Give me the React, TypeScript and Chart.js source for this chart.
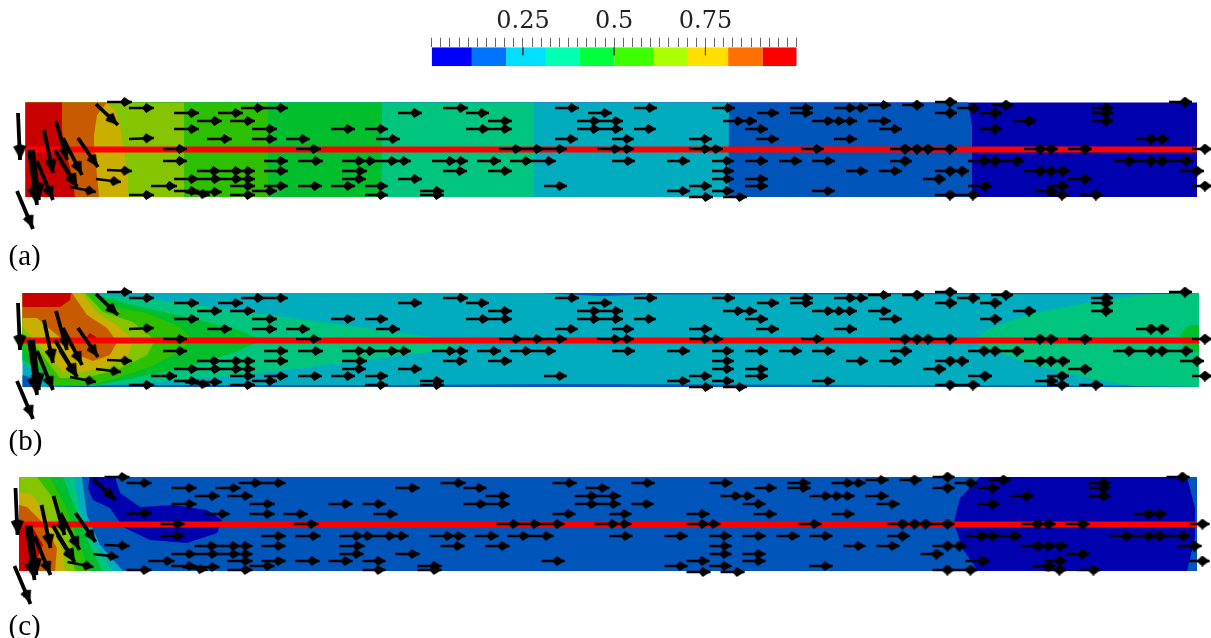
import React, { useEffect, useRef } from "react";
import { Chart, registerables } from "chart.js";

Chart.register(...registerables);

type Pt = [number, number];
type Band = [number, Pt[]];
type Arrow = [number, number, number, number];

const PANEL_COLORS = ["#0000AF", "#0055BB", "#00ACBE", "#00C57E", "#00BE2C", "#2DC000", "#85C400", "#C8AF00", "#C85A00", "#C80000"];
const BAR_COLORS = ["#0000FF", "#0073FF", "#00DFFF", "#00FFB0", "#00FF3C", "#3CFF00", "#AAFF00", "#FFDF00", "#FF7000", "#FF0000"];
const BAR_EDGES = [0, 0.11, 0.204, 0.313, 0.406, 0.5, 0.608, 0.702, 0.812, 0.906, 1];
const BAR_LABELS = ["0.25", "0.5", "0.75"];
const BAR_MAJOR = [0.25, 0.5, 0.75];

const panelABands: Band[] = [
  [0, [[25.5, 102.5], [1197, 102.5], [1197, 197], [25.5, 197]]],
  [1, [[25.5, 102.5], [968, 102.5], [972, 125], [972, 197], [25.5, 197]]],
  [2, [[25.5, 102.5], [729, 102.5], [729, 150], [728, 197], [25.5, 197]]],
  [3, [[25.5, 102.5], [534, 102.5], [534, 197], [25.5, 197]]],
  [4, [[25.5, 102.5], [382, 102.5], [382, 197], [25.5, 197]]],
  [5, [[25.5, 102.5], [268, 102.5], [268, 197], [25.5, 197]]],
  [6, [[25.5, 102.5], [184, 102.5], [184, 197], [25.5, 197]]],
  [7, [[25.5, 102.5], [107, 102.5], [115, 110], [120, 125], [124, 150], [128, 175], [128, 197], [25.5, 197]]],
  [8, [[25.5, 102.5], [107, 102.5], [97, 115], [94, 135], [94, 147], [97, 175], [99, 197], [25.5, 197]]],
  [9, [[25.5, 102.5], [62, 102.5], [62, 130], [65, 150], [72, 175], [75, 197], [25.5, 197]]],
];

const panelBBands: Band[] = [
  [2, [[22.5, 293], [1199, 293], [1199, 387], [22.5, 387]]],
  [1, [[100, 293], [540, 293], [600, 296], [650, 294.5], [1199, 294], [1199, 293]]],
  [1, [[40, 387], [120, 385], [400, 385], [560, 384], [1199, 386], [1199, 387]]],
  [3, [[975, 338], [990, 328], [1033, 313], [1087, 303], [1140, 295], [1199, 293], [1199, 387], [1133, 386], [1087, 378], [1033, 365], [1000, 353], [975, 343]]],
  [4, [[1180, 338], [1183, 330], [1190, 325], [1199, 325], [1199, 353], [1185, 350]]],
  [3, [[22.5, 293], [100, 295], [150, 299], [250, 312], [350, 326], [430, 337], [475, 342], [430, 352], [350, 362], [250, 374], [150, 382], [100, 385], [60, 385], [45, 380], [30, 368], [22.5, 362]]],
  [4, [[22.5, 293], [90, 293], [140, 307], [187, 317], [233, 328], [263, 340], [233, 353], [187, 367], [133, 378], [93, 386], [53, 386], [37, 368], [22.5, 360]]],
  [5, [[22.5, 293], [90, 293], [113, 307], [147, 313], [180, 327], [193, 340], [177, 353], [150, 367], [117, 378], [90, 385], [50, 385], [37, 362], [22.5, 348]]],
  [6, [[22.5, 293], [85, 293], [103, 312], [133, 322], [155, 340], [147, 355], [117, 370], [83, 378], [60, 378], [37, 348], [22.5, 333]]],
  [7, [[22.5, 293], [82, 293], [97, 313], [117, 325], [133, 340], [128, 355], [107, 367], [83, 372], [63, 372], [43, 348], [22.5, 327]]],
  [8, [[22.5, 293], [72, 293], [87, 315], [107, 328], [117, 342], [110, 355], [93, 361], [78, 355], [57, 335], [37, 318], [22.5, 318]]],
  [9, [[22.5, 293], [71, 293], [70, 300], [60, 307], [22.5, 307]]],
  [9, [[90, 333], [96, 337], [97, 342], [85, 342], [88, 335]]],
  [1, [[22.5, 375], [32, 378], [40, 387], [22.5, 387]]],
];

const panelCBands: Band[] = [
  [1, [[19, 477], [1197, 477], [1197, 571], [19, 571]]],
  [0, [[980, 477], [960, 498], [954, 522], [962, 548], [978, 571], [1187, 571], [1195, 538], [1195, 508], [1187, 477]]],
  [0, [[90, 477], [115, 477], [120, 493], [140, 507], [173, 505], [207, 510], [222, 520], [217, 533], [187, 543], [150, 540], [123, 527], [110, 508], [93, 500], [88, 488]]],
  [2, [[19, 477], [82, 477], [87, 515], [100, 545], [123, 571], [19, 571]]],
  [3, [[19, 477], [74, 477], [80, 512], [95, 545], [113, 571], [19, 571]]],
  [4, [[19, 477], [63, 477], [75, 508], [88, 542], [102, 571], [19, 571]]],
  [5, [[19, 477], [50, 477], [65, 505], [80, 545], [90, 571], [19, 571]]],
  [6, [[19, 477], [37, 477], [53, 498], [70, 535], [75, 571], [19, 571]]],
  [7, [[19, 492], [33, 495], [50, 522], [63, 552], [65, 571], [19, 571]]],
  [8, [[19, 505], [27, 507], [43, 523], [57, 548], [55, 571], [19, 571]]],
  [9, [[19, 522], [30, 523], [43, 545], [35, 563], [28, 571], [19, 571]]],
];

const arrows: Arrow[] = [
  [18, 113, 20, 160], [96, 104, 118, 125], [107, 102, 132, 102], [129, 108, 154, 108], [174, 113, 199, 113],
  [218, 113, 243, 113], [241, 108, 265, 108], [263, 108, 288, 108], [197, 121, 222, 121], [230, 121, 255, 121],
  [174, 129, 199, 129], [252, 129, 277, 129], [129, 139, 154, 138], [207, 139, 232, 139], [252, 139, 277, 139],
  [286, 139, 310, 139], [44, 130, 53, 173], [56, 121, 67, 160], [63, 138, 82, 175], [78, 138, 98, 167],
  [29, 150, 37, 205], [33, 150, 39, 200], [37, 161, 53, 200], [55, 150, 77, 187], [60, 160, 77, 187],
  [70, 187, 96, 192], [17, 191, 33, 229], [107, 170, 132, 171], [96, 179, 121, 182], [163, 149, 187, 149],
  [163, 161, 187, 161], [197, 171, 221, 171], [218, 171, 243, 171], [230, 171, 255, 171], [264, 161, 288, 161],
  [264, 171, 288, 171], [174, 179, 199, 179], [197, 179, 222, 179], [218, 179, 243, 179], [230, 179, 255, 179],
  [151, 186, 177, 186], [230, 186, 255, 186], [264, 186, 288, 186], [174, 191, 199, 191], [185, 192, 210, 195],
  [197, 192, 222, 192], [252, 191, 277, 191], [230, 195, 255, 195], [129, 195, 154, 195],
  [398, 113, 422, 113], [443, 108, 468, 108], [466, 113, 489, 113], [488, 121, 512, 121], [466, 129, 490, 129],
  [488, 129, 512, 129], [331, 129, 355, 129], [365, 129, 388, 129], [376, 139, 400, 139], [296, 149, 321, 149],
  [298, 161, 323, 161], [342, 161, 366, 161], [353, 161, 377, 161], [377, 161, 399, 161], [387, 161, 411, 161],
  [342, 171, 367, 171], [342, 179, 366, 179], [298, 186, 322, 186], [331, 186, 355, 186], [365, 186, 388, 186],
  [365, 195, 388, 195], [398, 179, 422, 179], [420, 191, 444, 191], [420, 195, 444, 195], [432, 161, 457, 161],
  [443, 161, 468, 161], [443, 171, 467, 171], [477, 161, 501, 161], [488, 171, 512, 171], [510, 161, 533, 161],
  [532, 161, 556, 161], [499, 149, 523, 149], [520, 149, 544, 149], [543, 149, 567, 149], [555, 108, 579, 108],
  [555, 139, 578, 139], [588, 113, 612, 113], [600, 121, 623, 121], [577, 121, 601, 121], [577, 129, 601, 129],
  [600, 129, 623, 129], [544, 186, 567, 186],
  [634, 108, 657, 108], [634, 129, 656, 129], [612, 139, 634, 139], [597, 149, 622, 149], [610, 149, 634, 149],
  [612, 161, 635, 161], [667, 161, 690, 161], [689, 139, 712, 139], [689, 149, 712, 149], [700, 149, 723, 149],
  [712, 108, 735, 108], [712, 161, 734, 161], [712, 171, 734, 171], [712, 179, 734, 179], [712, 191, 734, 191],
  [667, 191, 690, 191], [689, 186, 712, 186], [689, 197, 713, 197], [723, 197, 747, 197], [723, 121, 745, 121],
  [733, 121, 757, 121], [757, 113, 779, 113], [745, 129, 768, 129], [756, 139, 779, 139], [745, 161, 768, 161],
  [745, 179, 768, 179], [745, 186, 768, 186], [779, 161, 802, 161], [790, 108, 813, 108], [790, 113, 813, 113],
  [812, 121, 835, 121], [823, 121, 846, 121], [834, 121, 857, 121], [834, 108, 857, 108], [846, 108, 868, 108],
  [868, 105, 891, 105], [868, 121, 891, 121], [879, 129, 902, 129], [834, 139, 857, 139], [801, 149, 824, 149],
  [812, 161, 835, 161], [846, 171, 868, 171], [879, 171, 902, 171], [812, 191, 835, 191], [890, 149, 912, 149],
  [890, 161, 912, 161],
  [902, 105, 924, 105], [935, 102, 957, 102], [935, 113, 957, 113], [957, 108, 980, 108], [991, 105, 1013, 105],
  [980, 113, 1002, 113], [980, 129, 1002, 129], [1013, 121, 1036, 121], [1091, 108, 1113, 108], [1091, 113, 1113, 113],
  [1091, 121, 1113, 121], [1169, 102, 1192, 102], [1136, 139, 1158, 139], [1147, 139, 1169, 139], [902, 149, 924, 149],
  [913, 149, 935, 149], [935, 149, 957, 149], [1024, 149, 1047, 149], [1035, 149, 1058, 149], [1068, 149, 1092, 149],
  [1192, 149, 1212, 149], [935, 171, 957, 171], [947, 171, 969, 171], [923, 179, 946, 179], [935, 195, 957, 195],
  [957, 195, 980, 195], [968, 186, 992, 186], [968, 161, 991, 161], [980, 161, 1002, 161], [1002, 161, 1024, 161],
  [1024, 171, 1047, 171], [1035, 171, 1058, 171], [1047, 171, 1070, 171], [1068, 179, 1092, 179], [1035, 191, 1058, 191],
  [1047, 186, 1069, 186], [1047, 195, 1069, 195], [1079, 195, 1103, 195], [1113, 161, 1136, 161], [1136, 161, 1158, 161],
  [1147, 161, 1169, 161], [1169, 161, 1193, 161], [1180, 171, 1204, 171], [1192, 186, 1212, 186],
];

const PANELS = [
  { top: 90, height: 150, bands: panelABands, dx: 0, dy: 0, lineY: 149.5, x0: 25.5, x1: 1197 },
  { top: 280, height: 155, bands: panelBBands, dx: 0, dy: 190, lineY: 340.5, x0: 22.5, x1: 1199 },
  { top: 465, height: 160, bands: panelCBands, dx: -2.5, dy: 375, lineY: 524.5, x0: 19, x1: 1197 },
];

const LABELS = [
  { text: "(a)", top: 241 },
  { text: "(b)", top: 426 },
  { text: "(c)", top: 611 },
];

function headSprite(len: number, wid: number, rear: number) {
  const c = document.createElement("canvas");
  c.width = Math.ceil(len);
  c.height = Math.ceil(wid);
  const g = c.getContext("2d")!;
  g.fillStyle = "#000";
  g.beginPath();
  g.moveTo(len, wid / 2);
  g.lineTo(len * rear, 0);
  g.lineTo(0, wid / 2);
  g.lineTo(len * rear, wid);
  g.closePath();
  g.fill();
  return c;
}

function polygon(points: Pt[], color: string) {
  return {
    data: points.concat([points[0]]).map(([x, y]) => ({ x, y })),
    showLine: true,
    fill: "shape",
    backgroundColor: color,
    borderWidth: 0,
    pointRadius: 0,
    tension: 0,
  };
}

function shafts(list: Arrow[], width: number, dx: number, dy: number) {
  const data: { x: number; y: number }[] = [];
  for (const [a, b, c, d] of list) {
    data.push({ x: a + dx, y: b + dy }, { x: c + dx, y: d + dy }, { x: NaN, y: NaN });
  }
  return { data, showLine: true, borderColor: "#000", borderWidth: width, pointRadius: 0, fill: false, spanGaps: false };
}

function panelDatasets(p: (typeof PANELS)[number]) {
  const painted: any[] = p.bands.map(([lvl, pts]) => polygon(pts, PANEL_COLORS[lvl]));
  painted.push({
    data: [{ x: p.x0, y: p.lineY }, { x: p.x1, y: p.lineY }],
    showLine: true, borderColor: "#FF0000", borderWidth: 6, pointRadius: 0, fill: false,
  });
  const lengthOf = (a: Arrow) => Math.hypot(a[2] - a[0], a[3] - a[1]);
  const isThick = (a: Arrow) => lengthOf(a) > 27;
  painted.push(shafts(arrows.filter((a) => !isThick(a)), 2.4, p.dx, p.dy));
  painted.push(shafts(arrows.filter(isThick), 3.8, p.dx, p.dy));
  const sprites = arrows.map((a) =>
    isThick(a)
      ? headSprite(Math.max(14, lengthOf(a) * 0.34), Math.max(11, lengthOf(a) * 0.28), 0.15)
      : a[0] > 880
      ? headSprite(13, 11, 0.45)
      : headSprite(12, 10, 0.35)
  );
  const rot = arrows.map((a) => (Math.atan2(a[3] - a[1], a[2] - a[0]) * 180) / Math.PI);
  const heads = arrows.map((a, i) => {
    const L = lengthOf(a);
    const back = sprites[i].width / 2;
    return { x: a[2] + p.dx - ((a[2] - a[0]) / L) * back, y: a[3] + p.dy - ((a[3] - a[1]) / L) * back };
  });
  painted.push({
    data: heads,
    showLine: false,
    pointRadius: 5,
    pointStyle: (ctx: any) => sprites[ctx.dataIndex ?? 0],
    pointRotation: (ctx: any) => rot[ctx.dataIndex ?? 0],
  });
  return painted.reverse();
}

function makePanel(canvas: HTMLCanvasElement, p: (typeof PANELS)[number]) {
  return new Chart(canvas, {
    type: "scatter",
    data: { datasets: panelDatasets(p) as any },
    options: {
      responsive: false,
      animation: false,
      events: [],
      layout: { padding: 0, autoPadding: false },
      clip: false as any,
      plugins: { legend: { display: false }, tooltip: { enabled: false } },
      scales: {
        x: { type: "linear", display: false, min: 0, max: 1211 },
        y: { type: "linear", display: false, reverse: true, min: p.top, max: p.top + p.height },
      },
    },
  });
}

function makeBar(canvas: HTMLCanvasElement) {
  const segs = BAR_COLORS.map((c, i) =>
    polygon([[BAR_EDGES[i], 0], [BAR_EDGES[i + 1], 0], [BAR_EDGES[i + 1], 1], [BAR_EDGES[i], 1]], c)
  );
  const majors = {
    data: BAR_MAJOR.flatMap((v) => [{ x: v, y: 1 }, { x: v, y: 0.58 }, { x: NaN, y: NaN }]),
    showLine: true, borderColor: "#444", borderWidth: 1, pointRadius: 0, fill: false, spanGaps: false,
  };
  return new Chart(canvas, {
    type: "scatter",
    data: { datasets: [majors, ...segs] as any },
    options: {
      responsive: false,
      animation: false,
      events: [],
      layout: { padding: { left: 51.7, right: 53.3, top: 4, bottom: 8.7 }, autoPadding: false },
      plugins: { legend: { display: false }, tooltip: { enabled: false } },
      scales: {
        x: {
          type: "linear",
          position: "top",
          min: 0,
          max: 1,
          afterBuildTicks: (ax: any) => {
            const t = [];
            for (let i = 0; i <= 40; i++) t.push({ value: i / 40 });
            ax.ticks = t;
          },
          afterFit: (ax: any) => {
            ax.height = 43.3;
          },
          border: { display: false },
          grid: { drawOnChartArea: false, tickLength: 9.5, color: "#666", lineWidth: 1 },
          ticks: {
            autoSkip: false,
            maxRotation: 0,
            padding: 2,
            color: "#222",
            font: { family: "'DejaVu Serif'", size: 24 },
            callback: (v: any) => {
              const k = BAR_MAJOR.findIndex((m) => Math.abs(m - Number(v)) < 1e-6);
              return k >= 0 ? BAR_LABELS[k] : "";
            },
          },
        },
        y: { type: "linear", display: false, min: 0, max: 1 },
      },
    },
  });
}

export default function App() {
  const a = useRef<HTMLCanvasElement>(null);
  const b = useRef<HTMLCanvasElement>(null);
  const c = useRef<HTMLCanvasElement>(null);
  const bar = useRef<HTMLCanvasElement>(null);
  useEffect(() => {
    const charts = [a, b, c].map((r, i) => makePanel(r.current!, PANELS[i]));
    charts.push(makeBar(bar.current!));
    return () => charts.forEach((ch) => ch.destroy());
  }, []);
  const refs = [a, b, c];
  return (
    <div style={{ position: "absolute", left: 0, top: 0, width: 1211, height: 638, overflow: "hidden", background: "#fff" }}>
      <div style={{ position: "absolute", left: 380, top: 0, width: 470, height: 75 }}>
        <canvas ref={bar} width={470} height={75} style={{ display: "block", filter: "blur(0.3px)" }} />
      </div>
      {PANELS.map((p, i) => (
        <canvas key={i} ref={refs[i]} width={1211} height={p.height} style={{ position: "absolute", left: 0, top: p.top, display: "block", filter: "blur(0.4px)" }} />
      ))}
      {LABELS.map((l) => (
        <div key={l.text} style={{ position: "absolute", left: 8.5, top: l.top, fontFamily: "'Liberation Serif'", fontSize: 29, lineHeight: "28px", color: "#000" }}>
          {l.text}
        </div>
      ))}
    </div>
  );
}
